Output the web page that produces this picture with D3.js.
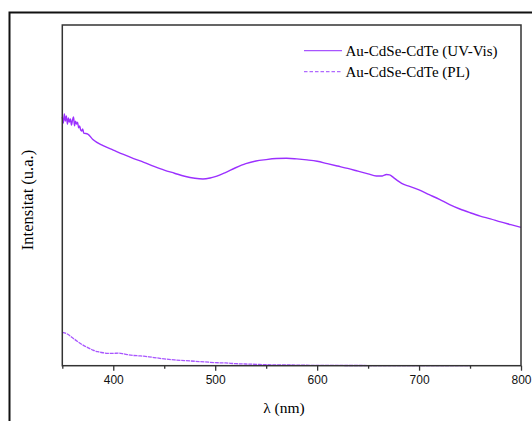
<!DOCTYPE html>
<html>
<head>
<meta charset="utf-8">
<script src="https://cdn.jsdelivr.net/npm/d3@7"></script>
<style>
  html, body { margin: 0; padding: 0; background: #ffffff; }
  svg { display: block; }
</style>
</head>
<body>
<svg id="chart" width="532" height="421"></svg>
<script>
// Wavelengths (nm) and intensities (a.u.) for the absorption (UV-Vis) spectrum
const uvWavelength = [350,351,352,353,354,355,356,357,358,359,360,361,362,363,364,365,366,367,368,369,370,371,
  375,380,390,400,410,420,430,440,450,460,470,480,488,495,500,510,520,530,540,550,560,570,580,590,600,
  610,620,630,640,650,658,664,668,671,675,680,685,690,700,710,720,730,740,750,760,770,780,790,800];
const uvIntensity = [73.0,71.2,73.9,71.8,73.3,70.9,72.7,71.5,72.4,70.6,72.1,73.0,70.4,71.8,70.9,71.5,69.8,70.4,69.2,68.9,69.5,68.3,
  68.0,66.4,64.6,63.3,62.0,60.8,59.7,58.5,57.4,56.5,55.6,55.0,54.8,55.1,55.5,56.7,58.1,59.3,60.1,60.5,60.8,60.9,60.7,60.4,60.0,
  59.3,58.6,57.9,57.1,56.3,55.7,55.7,56.1,56.0,55.2,54.1,53.2,52.7,51.6,50.2,48.8,47.3,46.0,44.9,43.9,43.1,42.2,41.4,40.6];

// Wavelengths (nm) and intensities (a.u.) for the photoluminescence (PL) spectrum
const plWavelength = [350,355,360,365,370,375,380,385,390,395,400,405,410,415,420,425,430,435,440,450,460,470,480,490,
  500,510,520,530,540,550,575,600,650,700,750];
const plIntensity = [9.8,9.3,8.2,7.1,6.1,5.3,4.6,4.1,3.8,3.6,3.6,3.7,3.5,3.2,3.0,2.9,2.8,2.6,2.4,2.0,1.7,1.5,1.3,1.1,
  0.9,0.8,0.6,0.5,0.4,0.3,0.2,0.1,0.05,0.03,0.02];

const seriesNames = ["Au-CdSe-CdTe (UV-Vis)", "Au-CdSe-CdTe (PL)"];
const majorTicks = [400, 500, 600, 700, 800];
const minorTicks = [350, 450, 550, 650, 750];
const xTitle = "λ (nm)";
const yTitle = "Intensitat (u.a.)";

const svg = d3.select("#chart");
const plot = { left: 62.3, right: 521, top: 25, bottom: 365.7 };

const x = d3.scaleLinear().domain([350, 800]).range([plot.left, plot.right]);
const y = d3.scaleLinear().domain([0, 100]).range([plot.bottom, plot.top]);

// outer figure frame
svg.append("rect")
  .attr("x", 9.5).attr("y", 12.5)
  .attr("width", 600).attr("height", 500)
  .attr("fill", "none").attr("stroke", "#111").attr("stroke-width", 2);

const uvData = uvWavelength.map((w, i) => ({ w, v: uvIntensity[i] }));
const plData = plWavelength.map((w, i) => ({ w, v: plIntensity[i] }));

const smooth = d3.line().x(d => x(d.w)).y(d => y(d.v)).curve(d3.curveMonotoneX);

svg.append("path").datum(plData)
  .attr("d", smooth)
  .attr("fill", "none").attr("stroke", "#a855ff")
  .attr("stroke-width", 1.3).attr("stroke-dasharray", "4,0.8");

svg.append("path").datum(uvData)
  .attr("d", smooth)
  .attr("fill", "none").attr("stroke", "#9b30ff")
  .attr("stroke-width", 1.4).attr("stroke-linejoin", "round");

// plot area border
svg.append("rect")
  .attr("x", plot.left).attr("y", plot.top)
  .attr("width", plot.right - plot.left).attr("height", plot.bottom - plot.top)
  .attr("fill", "none").attr("stroke", "#333").attr("stroke-width", 1.5);

// bottom axis: major ticks with labels, minor ticks without
const xAxis = d3.axisBottom(x).tickValues(majorTicks).tickSize(5).tickSizeOuter(0).tickFormat(d3.format("d"));
const gx = svg.append("g").attr("transform", `translate(0,${plot.bottom})`).call(xAxis);
gx.select(".domain").remove();
gx.selectAll(".tick line").attr("stroke", "#333").attr("stroke-width", 1.3);
gx.selectAll(".tick text")
  .attr("y", 10).attr("dy", "0.71em")
  .attr("fill", "#111")
  .style("font-family", "'Liberation Sans', Arial, sans-serif")
  .style("font-size", "12px");

const xMinor = d3.axisBottom(x).tickValues(minorTicks).tickSize(3).tickFormat("");
const gxm = svg.append("g").attr("transform", `translate(0,${plot.bottom})`).call(xMinor);
gxm.select(".domain").remove();
gxm.selectAll(".tick line").attr("stroke", "#333").attr("stroke-width", 1.3);

// axis titles
const serif = "'Liberation Serif', 'Times New Roman', serif";
svg.append("text")
  .attr("x", 284).attr("y", 413)
  .attr("text-anchor", "middle")
  .style("font-family", serif).style("font-size", "15.5px").attr("fill", "#000")
  .text(xTitle);

svg.append("text")
  .attr("transform", "translate(32.5,200) rotate(-90)")
  .attr("text-anchor", "middle")
  .style("font-family", serif).style("font-size", "16.5px").attr("fill", "#000")
  .text(yTitle);

// legend
const legend = svg.append("g");
const legendRows = [
  { name: seriesNames[0], color: "#a855ff", dash: null, ly: 50.7 },
  { name: seriesNames[1], color: "#b06aff", dash: "3.5,2", ly: 71.7 }
];
legendRows.forEach(r => {
  legend.append("line")
    .attr("x1", 304).attr("x2", 342).attr("y1", r.ly).attr("y2", r.ly)
    .attr("stroke", r.color).attr("stroke-width", 1.3)
    .attr("stroke-dasharray", r.dash);
  legend.append("text")
    .attr("x", 345.5).attr("y", r.ly + 5.3)
    .style("font-family", serif).style("font-size", "15px").attr("fill", "#000")
    .text(r.name);
});
</script>
</body>
</html>
